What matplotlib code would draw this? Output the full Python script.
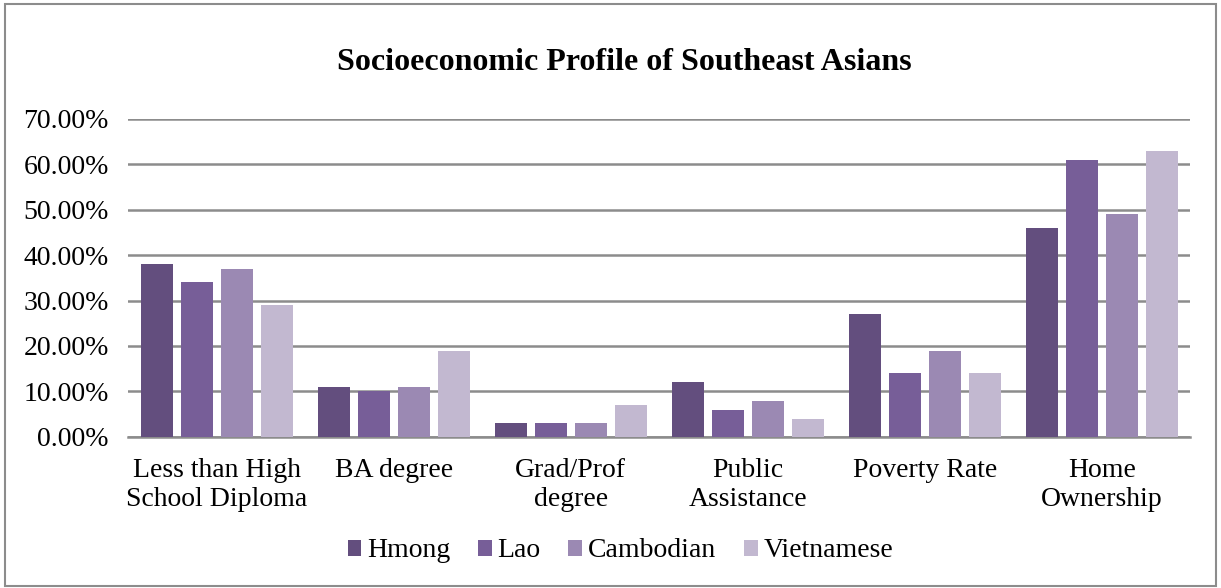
import numpy as np
import matplotlib
matplotlib.use("Agg")
import matplotlib.pyplot as plt
from matplotlib.patches import Rectangle
from matplotlib.ticker import FuncFormatter

categories = ["Less than High\nSchool Diploma", "BA degree", "Grad/Prof\ndegree",
              "Public\nAssistance", "Poverty Rate", "Home\nOwnership"]
groups = ["Hmong", "Lao", "Cambodian", "Vietnamese"]
hmong = [0.38, 0.11, 0.03, 0.12, 0.27, 0.46]
lao = [0.34, 0.10, 0.03, 0.06, 0.14, 0.61]
cambodian = [0.37, 0.11, 0.03, 0.08, 0.19, 0.49]
vietnamese = [0.29, 0.19, 0.07, 0.04, 0.14, 0.63]

colors = ["#634E7E", "#775E98", "#9B89B3", "#C2B8D0"]

plt.rcParams['font.family'] = ['Liberation Serif', 'DejaVu Serif']

fig = plt.figure(figsize=(12.21, 5.88), dpi=100)
ax = fig.add_axes([0.105, 0.257, 0.870, 0.541])

x = np.arange(len(categories))
step = 0.226
width = 0.181
for i, (name, vals) in enumerate(zip(groups, [hmong, lao, cambodian, vietnamese])):
    ax.bar(x + (i - 1.5) * step, vals, width, color=colors[i], label=name, zorder=3)

ax.set_xlim(-0.5, len(categories) - 0.5)
ax.set_ylim(0, 0.7)
ax.set_yticks(np.arange(0, 0.71, 0.1))
ax.yaxis.set_major_formatter(FuncFormatter(lambda v, p: f"{v*100:.2f}%"))
ax.grid(axis='y', color='#8c8c8c', linewidth=1.8, zorder=0)
for s in ['top', 'right', 'left']:
    ax.spines[s].set_visible(False)
ax.spines['bottom'].set_color('#8c8c8c')
ax.spines['bottom'].set_linewidth(1.8)
ax.set_xticks(x)
ax.set_xticklabels(categories, fontsize=20, linespacing=1.25)
ax.tick_params(axis='x', length=0, pad=15)
ax.tick_params(axis='y', length=0, labelsize=20, pad=14)

fig.text(0.511, 0.893, "Socioeconomic Profile of Southeast Asians", ha='center', va='center',
         fontsize=23, fontweight='bold')

fig.legend(loc='center', bbox_to_anchor=(0.508, 0.063), ncol=4, frameon=False, fontsize=20,
           handlelength=0.5, handleheight=0.5, handletextpad=0.2, columnspacing=1.0)

fig.patches.append(Rectangle((0.004, 0.004), 0.992, 0.990, transform=fig.transFigure,
                             fill=False, edgecolor='#8c8c8c', linewidth=1.5))

fig.savefig("out.png", dpi=100)
